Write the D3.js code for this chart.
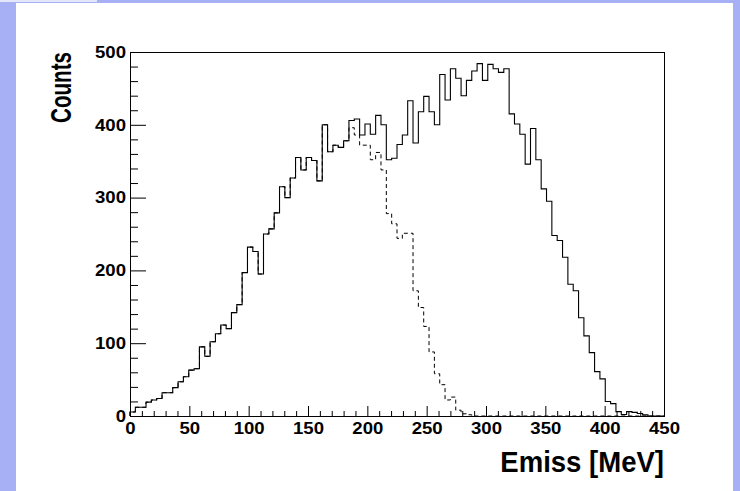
<!DOCTYPE html>
<meta charset="utf-8">
<script src="https://d3js.org/d3.v7.min.js"></script>
<style>
  body { margin: 0; }
  text { font-family: "Liberation Sans", Arial, Helvetica, sans-serif; font-weight: bold; }
</style>
<div id="graph"></div>
<script>

// histogram: 100 bins of 4.5 MeV from 0 to 450
var binLow = 0, binHigh = 450, nBins = 100;

// solid histogram, counts per bin
var solidCounts = [
  5.5, 12, 12, 19, 22, 24, 32, 32, 39, 47,
  54, 63, 65, 95, 82, 102, 113, 125, 120, 142,
  153, 197, 232, 226, 195, 250, 257, 279, 315, 300,
  327, 355, 338, 355, 351, 323, 400, 363, 372, 369,
  378, 406, 408, 386, 401, 387, 413, 400, 352, 354,
  373, 386, 433, 375, 418, 439, 418, 400, 469, 434,
  477, 464, 440, 461, 474, 484, 461, 483, 477, 472,
  477, 415, 401, 387, 346, 395, 352, 312, 295, 248,
  241, 218, 181, 172, 135, 110, 87, 61, 51, 20,
  17, 6, 2, 6, 5, 3.5, 1.5, 0, 0, 0
];

// dashed histogram (same as solid below ~185 MeV)
var dashedCounts = [
  5.5, 12, 12, 19, 22, 24, 32, 32, 39, 47,
  54, 63, 65, 95, 82, 102, 113, 125, 120, 142,
  153, 197, 232, 226, 195, 250, 257, 279, 315, 300,
  327, 355, 338, 355, 351, 323, 400, 363, 372, 369,
  378, 396, 386, 372, 372, 352, 362, 338, 278, 264,
  244, 251, 251, 172, 149, 123, 88, 58, 43, 22,
  26, 8, 3, 1.7, 0, 0, 0, 0, 0, 0,
  0, 0, 0, 0, 0, 0, 0, 0, 0, 0,
  0, 0, 0, 0, 0, 0, 0, 0, 0, 0,
  0, 0, 0, 0, 0, 0, 0, 0, 0, 0
];

var xMajorTicks = [0, 50, 100, 150, 200, 250, 300, 350, 400, 450];
var yMajorTicks = [0, 100, 200, 300, 400, 500];

var xTitle = "Emiss [MeV]";
var yTitle = "Counts";

var W = 740, H = 491;
var frame = {left: 130, right: 664, top: 52, bottom: 416};
var stretch = 1.14; // tick labels in the original look a bit wide

var svg = d3.select("#graph")
  .append("svg")
    .attr("width", W)
    .attr("height", H);

// canvas background (pale blue border like the ROOT canvas)
svg.append("rect").attr("width", W).attr("height", H).attr("fill", "#a8b0f5");
svg.append("rect").attr("x", 0).attr("y", 0).attr("width", 97).attr("height", 2).attr("fill", "#e4e6fa");
svg.append("rect").attr("x", 16).attr("y", 3).attr("width", 717).attr("height", H - 3).attr("fill", "#ffffff");

var x = d3.scaleLinear().domain([binLow, binHigh]).range([frame.left, frame.right]);
var y = d3.scaleLinear().domain([0, 500]).range([frame.bottom, frame.top]);

var binWidth = (binHigh - binLow) / nBins;

function stepPoints(counts) {
  var pts = [[binLow, 0]];
  counts.forEach(function(c, i) { pts.push([binLow + i * binWidth, c]); });
  pts.push([binHigh, counts[counts.length - 1]]);
  pts.push([binHigh, 0]);
  return pts;
}

var line = d3.line()
  .x(function(d) { return x(d[0]); })
  .y(function(d) { return y(d[1]); })
  .curve(d3.curveStepAfter);

// dashed first, solid on top
svg.append("path")
  .attr("d", line(stepPoints(dashedCounts)))
  .attr("fill", "none")
  .attr("stroke", "#000")
  .attr("stroke-width", 1)
  .attr("stroke-dasharray", "4,3");

svg.append("path")
  .attr("d", line(stepPoints(solidCounts)))
  .attr("fill", "none")
  .attr("stroke", "#000")
  .attr("stroke-width", 1.1);

// x axis: major + minor ticks pointing inside
var xMinor = d3.range(0, 451, 10).filter(function(v) { return v % 50 !== 0; });

var gx = svg.append("g").attr("transform", "translate(0," + frame.bottom + ")");
gx.call(d3.axisBottom(x).tickValues(xMajorTicks).tickSizeInner(-10).tickSizeOuter(0).tickPadding(6).tickFormat(d3.format("d")));
gx.append("g").call(d3.axisBottom(x).tickValues(xMinor).tickSizeInner(-5).tickSizeOuter(0).tickFormat(""));

var yMinor = d3.range(0, 501, 20).filter(function(v) { return v % 100 !== 0; });

var gy = svg.append("g").attr("transform", "translate(" + frame.left + ",0)");
gy.call(d3.axisLeft(y).tickValues(yMajorTicks).tickSizeInner(-16).tickSizeOuter(0).tickPadding(4).tickFormat(d3.format("d")));
gy.append("g").call(d3.axisLeft(y).tickValues(yMinor).tickSizeInner(-8).tickSizeOuter(0).tickFormat(""));

svg.selectAll(".domain").remove();
svg.selectAll(".tick line").attr("stroke", "#000");
svg.selectAll(".tick text")
  .attr("fill", "#000")
  .style("font-size", "16.3px")
  .attr("transform", "scale(" + stretch + ",1)");
gy.selectAll(".tick text").attr("x", -4 / stretch);

// frame
svg.append("rect")
  .attr("x", frame.left + 0.5)
  .attr("y", frame.top + 0.5)
  .attr("width", frame.right - frame.left)
  .attr("height", frame.bottom - frame.top)
  .attr("fill", "none")
  .attr("stroke", "#000");

// titles
svg.append("text")
  .attr("transform", "translate(" + frame.right + ",472) scale(0.95,1)")
  .attr("text-anchor", "end")
  .style("font-size", "29px")
  .text(xTitle);

svg.append("text")
  .attr("transform", "translate(71," + frame.top + ") scale(1.4,1) rotate(-90)")
  .attr("text-anchor", "end")
  .style("font-size", "20.6px")
  .text(yTitle);

</script>
